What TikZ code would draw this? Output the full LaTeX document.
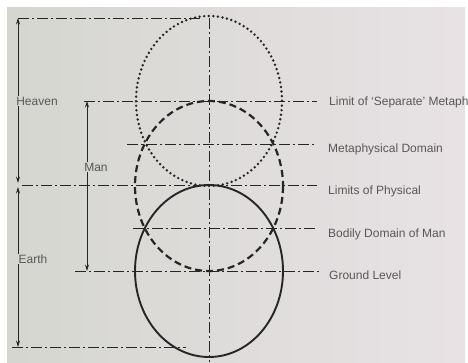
\documentclass[tikz,border=0pt]{standalone}
\usepackage{fontspec}
\setmainfont{Liberation Sans}
\usetikzlibrary{arrows.meta}
\definecolor{ink}{RGB}{38,38,38}
\definecolor{txt}{RGB}{88,88,88}
\definecolor{bgL}{RGB}{213,214,208}
\definecolor{bgR}{RGB}{232,226,229}
\begin{document}
\begin{tikzpicture}[x=1pt,y=-1pt,
  axis/.style={draw=ink, line width=1pt, dash pattern=on 11pt off 3pt on 2pt off 3pt},
  dimline/.style={draw=ink, line width=0.8pt},
  arrboth/.style={dimline, {Stealth[length=6.5pt,width=4pt]}-{Stealth[length=6.5pt,width=4pt]}},
  lbl/.style={text=txt, font=\fontsize{12}{12}\selectfont, inner sep=1pt},
  rlbl/.style={lbl, anchor=west},
  llbl/.style={lbl, fill=bgL},
  dotcirc/.style={draw=ink, line width=2.7pt, line cap=round, dash pattern=on 0pt off 4.6pt},
  dashcirc/.style={draw=ink, line width=2.2pt, dash pattern=on 7pt off 4pt},
  solidcirc/.style={draw=ink, line width=1.9pt}]
\useasboundingbox (0,0) rectangle (468,362);
\fill[white] (0,0) rectangle (468,362);
\shade[left color=bgL, right color=bgR] (7,7) rectangle (465,362);
\clip (0,0) rectangle (468,362);

% centres of the three circles
\coordinate (cTop) at (209,101);
\coordinate (cMid) at (209,186);
\coordinate (cBot) at (209,271);

% circles
\draw[dotcirc] (cTop) ellipse [x radius=73, y radius=85];
\draw[dashcirc] (cMid) ellipse [x radius=74, y radius=85];
\draw[solidcirc] (cBot) ellipse [x radius=74, y radius=86];

% axis coordinates
\coordinate (vT) at (209,18);
\coordinate (vB) at (209,362);
\coordinate (topL) at (18,18);
\coordinate (topR) at (200,18);
\coordinate (hvL) at (84,101);
\coordinate (hvR) at (317,101);
\coordinate (mdL) at (127,144);
\coordinate (mdR) at (317,144);
\coordinate (lpL) at (22,185);
\coordinate (lpR) at (317,185);
\coordinate (bdL) at (133,228);
\coordinate (bdR) at (317,228);
\coordinate (glL) at (75,271);
\coordinate (glR) at (319,271);
\coordinate (btL) at (12,347);
\coordinate (btR) at (186,347);

\draw[axis] (vT) -- (vB);
\draw[axis] (topL) -- (topR);
\draw[axis] (hvL) -- (hvR);
\draw[axis] (mdL) -- (mdR);
\draw[axis] (lpL) -- (lpR);
\draw[axis] (bdL) -- (bdR);
\draw[axis] (glL) -- (glR);
\draw[axis] (btL) -- (btR);

% dimension arrows
\coordinate (hA) at (18,18);
\coordinate (hB) at (18,183);
\coordinate (eA) at (18,187);
\coordinate (eB) at (18,347);
\coordinate (mA) at (87,101);
\coordinate (mB) at (87,271);
\draw[arrboth] (hA) -- (hB);
\draw[arrboth] (eA) -- (eB);
\draw[arrboth] (mA) -- (mB);

% left labels
\node[llbl] (heaven) at (37,101) {Heaven};
\node[llbl] (man) at (96,167) {Man};
\node[llbl] (earth) at (33,259) {Earth};

% right labels
\node[rlbl] (lsep) at (328,102) {Limit of ‘Separate’ Metaphysical};
\node[rlbl] (lmeta) at (327,149) {Metaphysical Domain};
\node[rlbl] (lphys) at (327,191) {Limits of Physical};
\node[rlbl] (lbody) at (327,234) {Bodily Domain of Man};
\node[rlbl] (lground) at (328,275) {Ground Level};
\end{tikzpicture}
\end{document}
